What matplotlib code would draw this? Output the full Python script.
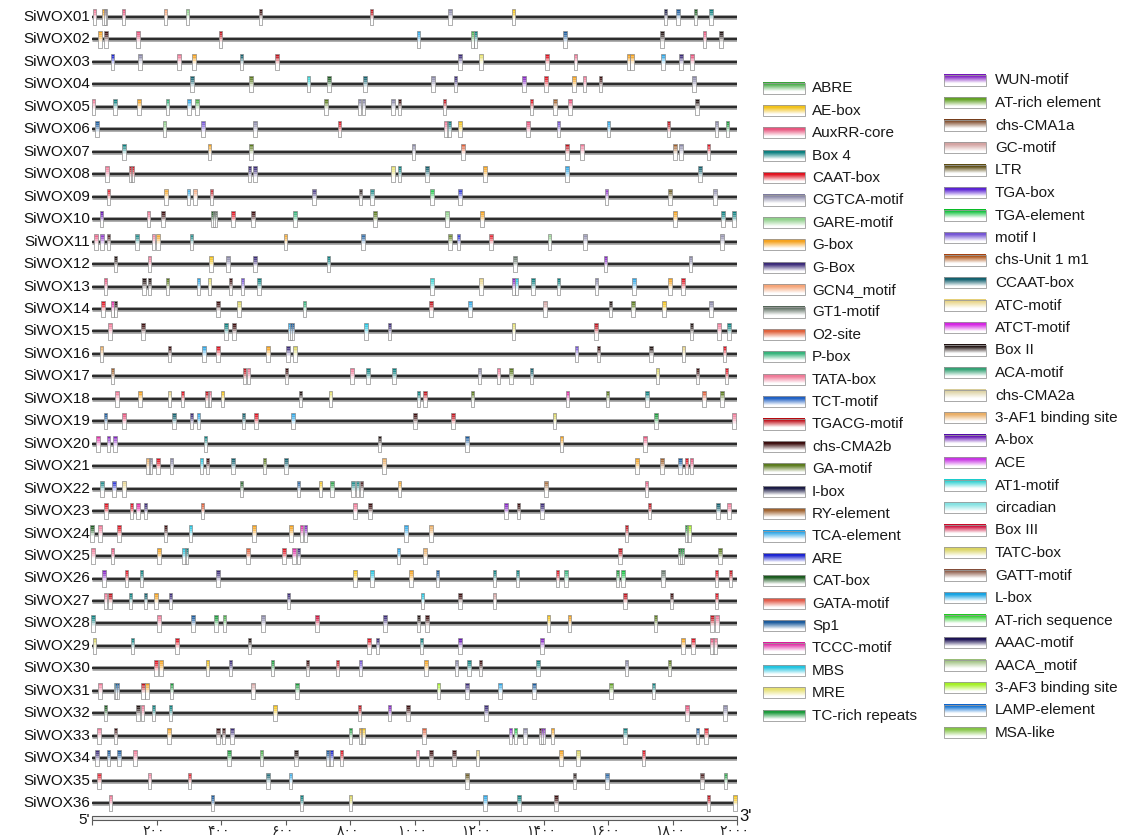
import numpy as np
import matplotlib.pyplot as plt
import matplotlib.colors as mcolors
from matplotlib.patches import Rectangle
from matplotlib.collections import PatchCollection

plt.rcParams['font.family'] = ['Liberation Sans', 'DejaVu Sans']

genes = ['SiWOX%02d' % i for i in range(1, 37)]

# legend entries, column by column, with the colour of each cis-element
legend_left = ['ABRE', 'AE-box', 'AuxRR-core', 'Box 4', 'CAAT-box', 'CGTCA-motif',
               'GARE-motif', 'G-box', 'G-Box', 'GCN4_motif', 'GT1-motif', 'O2-site',
               'P-box', 'TATA-box', 'TCT-motif', 'TGACG-motif', 'chs-CMA2b', 'GA-motif',
               'I-box', 'RY-element', 'TCA-element', 'ARE', 'CAT-box', 'GATA-motif',
               'Sp1', 'TCCC-motif', 'MBS', 'MRE', 'TC-rich repeats']
colors_left = ['#4cae4c', '#f2c21a', '#e8557e', '#0a7f7f', '#e0101e', '#8a88a8',
               '#8fd08a', '#f5a21e', '#3a2a78', '#f6a578', '#66766a', '#e0603a',
               '#34b37a', '#f07a98', '#1f60c4', '#c0121c', '#3a0c0c', '#5a7a1c',
               '#1a1a44', '#a0622e', '#2ea6e6', '#1a22d0', '#1a5a1e', '#e25a48',
               '#1a5a9c', '#e030a6', '#22c4e0', '#e6e070', '#1a9a3a']
legend_right = ['WUN-motif', 'AT-rich element', 'chs-CMA1a', 'GC-motif', 'LTR', 'TGA-box',
                'TGA-element', 'motif I', 'chs-Unit 1 m1', 'CCAAT-box', 'ATC-motif',
                'ATCT-motif', 'Box II', 'ACA-motif', 'chs-CMA2a', '3-AF1 binding site',
                'A-box', 'ACE', 'AT1-motif', 'circadian', 'Box III', 'TATC-box',
                'GATT-motif', 'L-box', 'AT-rich sequence', 'AAAC-motif', 'AACA_motif',
                '3-AF3 binding site', 'LAMP-element', 'MSA-like']
colors_right = ['#8424c4', '#62a224', '#845232', '#d4a4a2', '#5c4c12', '#5a22d4',
                '#12c23e', '#7454d4', '#b0561a', '#12606e', '#e8d486', '#d424e2',
                '#201210', '#34a274', '#dcd2a4', '#eaae66', '#6412b4', '#c834e4',
                '#34d2d2', '#86e2e2', '#d0123e', '#dad462', '#90604e', '#14a2e2',
                '#34d234', '#1c1254', '#a4c486', '#a4f024', '#1474d4', '#84c444']

# cis-element positions (bp from 5') and types, one list per gene
site_pos = [
    [8, 38, 42, 97, 228, 296, 522, 866, 1110, 1307, 1778, 1817, 1872, 1919],
    [25, 44, 142, 398, 1012, 1180, 1189, 1466, 1767, 1899, 1950],
    [64, 149, 269, 317, 463, 574, 1141, 1206, 1411, 1499, 1664, 1674, 1771, 1826, 1860],
    [310, 493, 672, 735, 846, 1058, 1127, 1339, 1407, 1494, 1527, 1577, 1867],
    [5, 71, 146, 234, 300, 326, 725, 829, 842, 934, 954, 1093, 1363, 1435, 1483, 1876],
    [16, 225, 345, 506, 767, 1097, 1107, 1141, 1352, 1447, 1601, 1787, 1937, 1970],
    [99, 365, 493, 997, 1150, 1473, 1520, 1808, 1826, 1911],
    [47, 120, 126, 489, 506, 934, 954, 1039, 1219, 1473, 1886],
    [51, 230, 299, 319, 371, 689, 832, 868, 1054, 1141, 1595, 1792, 1932],
    [29, 175, 221, 375, 382, 437, 500, 630, 877, 1101, 1209, 1808, 1957, 1991],
    [12, 31, 51, 139, 191, 205, 309, 600, 840, 1110, 1137, 1237, 1418, 1529, 1954],
    [73, 178, 369, 421, 505, 734, 1311, 1592, 1856],
    [42, 162, 178, 234, 330, 365, 430, 466, 518, 1054, 1206, 1307, 1316, 1368, 1447,
     1564, 1681, 1792, 1833],
    [34, 64, 73, 391, 456, 659, 1052, 1172, 1405, 1608, 1677, 1774, 1919],
    [55, 158, 415, 440, 614, 620, 849, 923, 1307, 1562, 1859, 1945, 1976],
    [29, 241, 348, 391, 545, 607, 629, 1503, 1571, 1734, 1834, 1961],
    [64, 473, 485, 603, 806, 855, 937, 1202, 1261, 1300, 1363, 1754, 1878, 1967],
    [77, 149, 241, 280, 356, 365, 404, 646, 740, 1012, 1033, 1180, 1474, 1598, 1721,
     1898, 1954],
    [42, 99, 254, 309, 330, 470, 509, 623, 1002, 1120, 1434, 1748, 1991],
    [18, 51, 71, 352, 892, 1163, 1456, 1715],
    [173, 182, 204, 247, 340, 358, 437, 535, 601, 906, 1690, 1768, 1823, 1843, 1859],
    [31, 68, 99, 463, 640, 709, 744, 810, 823, 836, 954, 1407, 1719],
    [44, 123, 143, 166, 343, 816, 862, 1283, 1322, 1396, 1729, 1941, 1976],
    [0, 25, 84, 228, 306, 502, 617, 649, 662, 973, 1052, 1657, 1843, 1852],
    [3, 64, 208, 286, 293, 483, 596, 627, 640, 950, 1032, 1638, 1823, 1830, 1948],
    [38, 107, 153, 391, 816, 868, 989, 1071, 1248, 1320, 1444, 1470, 1630, 1647, 1771,
     1937, 1980],
    [42, 55, 119, 166, 199, 243, 609, 1025, 1141, 1248, 1653, 1797, 1937],
    [3, 208, 313, 385, 411, 531, 698, 908, 1012, 1039, 1415, 1481, 1747, 1922, 1938],
    [8, 126, 263, 489, 859, 885, 1022, 1141, 1396, 1833, 1863, 1922, 1932],
    [199, 214, 358, 430, 559, 668, 761, 832, 1036, 1130, 1169, 1205, 1383, 1657, 1790],
    [25, 73, 77, 158, 171, 247, 500, 636, 1075, 1163, 1265, 1370, 1610, 1741],
    [42, 143, 156, 191, 243, 568, 830, 923, 980, 1222, 1845, 1963],
    [21, 73, 238, 391, 408, 434, 801, 832, 840, 1029, 1297, 1313, 1343, 1392, 1398,
     1428, 1653, 1878, 1904],
    [16, 51, 84, 133, 424, 526, 633, 731, 741, 773, 1010, 1052, 1123, 1196, 1455, 1507,
     1710],
    [22, 178, 302, 545, 616, 1163, 1496, 1597, 1891, 1965],
    [58, 374, 650, 801, 1219, 1324, 1438, 1911, 1993],
]
site_type = [
    ['TATA-box', 'G-box', 'CGTCA-motif', 'AuxRR-core', 'GCN4_motif', 'GARE-motif',
     'chs-CMA2b', 'TGACG-motif', 'CGTCA-motif', 'AE-box', 'I-box', 'Sp1', 'CAT-box', 'Box 4'],
    ['G-box', 'chs-CMA2b', 'AuxRR-core', 'TGACG-motif', 'TCA-element', 'ABRE', 'Box 4',
     'Sp1', 'Box II', 'AuxRR-core', 'Box II'],
    ['ARE', 'CGTCA-motif', 'TATA-box', 'G-box', 'CCAAT-box', 'TGACG-motif', 'G-Box', 'MRE',
     'CAAT-box', 'TATA-box', 'G-box', 'G-box', 'TCA-element', 'G-Box', 'AuxRR-core'],
    ['CCAAT-box', 'GA-motif', 'AT1-motif', 'CAT-box', 'CCAAT-box', 'CGTCA-motif', 'G-Box',
     'WUN-motif', 'CAAT-box', 'G-box', 'TATA-box', 'chs-CMA2b', 'CGTCA-motif'],
    ['TATA-box', 'Box 4', 'G-box', 'P-box', 'TCA-element', 'ABRE', 'GA-motif', 'CGTCA-motif',
     'CGTCA-motif', 'CGTCA-motif', 'chs-CMA2b', 'TGACG-motif', 'CAAT-box', 'RY-element',
     'AuxRR-core', 'Box II'],
    ['Sp1', 'GARE-motif', 'motif I', 'CGTCA-motif', 'CAAT-box', 'TATA-box', 'Box 4', 'AE-box',
     'AuxRR-core', 'motif I', 'TCA-element', 'TGACG-motif', 'CGTCA-motif', 'TC-rich repeats'],
    ['Box 4', 'G-box', 'GA-motif', 'CGTCA-motif', 'O2-site', 'TGACG-motif', 'TATA-box',
     'RY-element', 'CGTCA-motif', 'CAAT-box'],
    ['TATA-box', 'TGACG-motif', 'CAAT-box', 'G-Box', 'G-Box', 'MRE', 'Box 4', 'CCAAT-box',
     'G-box', 'TCA-element', 'CCAAT-box'],
    ['CAAT-box', 'G-box', 'TCA-element', 'GCN4_motif', 'TGACG-motif', 'G-Box', 'Box II',
     'Box 4', 'TGA-element', 'ARE', 'WUN-motif', 'LTR', 'CGTCA-motif'],
    ['A-box', 'TATA-box', 'chs-CMA2b', 'CAT-box', 'GT1-motif', 'CAAT-box', 'chs-CMA2b',
     'P-box', 'GA-motif', 'GARE-motif', 'G-box', 'G-box', 'Box 4', 'Box 4'],
    ['AuxRR-core', 'WUN-motif', 'chs-CMA2b', 'Box 4', 'TATA-box', 'G-box', 'Box 4', 'G-box',
     'Sp1', 'GA-motif', 'ARE', 'CAAT-box', 'GARE-motif', 'CGTCA-motif', 'CGTCA-motif'],
    ['Box II', 'TATA-box', 'AE-box', 'CGTCA-motif', 'G-Box', 'Box 4', 'GT1-motif',
     'WUN-motif', 'CGTCA-motif'],
    ['AuxRR-core', 'Box II', 'Box II', 'GA-motif', 'TCA-element', 'MRE', 'chs-CMA2b',
     'motif I', 'Box 4', 'AT1-motif', 'ATC-motif', 'WUN-motif', 'MBS', 'Box 4', 'Box 4',
     'CGTCA-motif', 'TCA-element', 'G-box', 'CAAT-box'],
    ['CAAT-box', 'TCCC-motif', 'Box II', 'chs-CMA2b', 'TATC-box', 'P-box', 'TGACG-motif',
     'TCA-element', 'GC-motif', 'Box II', 'GA-motif', 'AE-box', 'CGTCA-motif'],
    ['TATA-box', 'chs-CMA2b', 'Box 4', 'chs-CMA2b', 'TCA-element', 'Sp1', 'MBS', 'G-Box',
     'MRE', 'TGACG-motif', 'Box II', 'TATA-box', 'Box 4'],
    ['3-AF1 binding site', 'chs-CMA2b', 'TCA-element', 'CAAT-box', 'G-box', 'G-Box',
     'TATC-box', 'motif I', 'chs-CMA2b', 'Box II', 'ATC-motif', 'CAAT-box'],
    ['RY-element', 'TGACG-motif', 'TATA-box', 'chs-CMA2b', 'TATA-box', 'Box 4', 'Box 4',
     'CGTCA-motif', 'TATA-box', 'GA-motif', 'CCAAT-box', 'TATC-box', 'chs-CMA2b', 'CAAT-box'],
    ['TATA-box', 'G-box', 'ATC-motif', 'CAAT-box', 'TGACG-motif', 'TATA-box', 'AE-box',
     'Box II', 'MRE', 'Box 4', 'TGACG-motif', 'GA-motif', 'TCCC-motif', 'GA-motif', 'Box 4',
     'O2-site', 'GA-motif'],
    ['Sp1', 'AuxRR-core', 'CCAAT-box', 'G-Box', 'TCA-element', 'CCAAT-box', 'CAAT-box',
     'TCA-element', 'chs-CMA2b', 'TGACG-motif', 'TATC-box', 'TC-rich repeats', 'TATA-box'],
    ['TCCC-motif', 'WUN-motif', 'WUN-motif', 'Box 4', 'Box II', 'Sp1', 'G-box', 'AuxRR-core'],
    ['3-AF1 binding site', 'CGTCA-motif', 'CAAT-box', 'CGTCA-motif', 'MBS', 'chs-CMA2b',
     'CCAAT-box', 'GA-motif', 'CCAAT-box', '3-AF1 binding site', 'G-box', 'RY-element',
     'Sp1', 'CAAT-box', 'AuxRR-core'],
    ['Box 4', 'ARE', 'ATC-motif', 'CAT-box', 'Sp1', 'AE-box', 'TC-rich repeats', 'Box 4',
     'Box 4', 'chs-CMA2b', 'G-box', 'RY-element', 'AuxRR-core'],
    ['CAAT-box', 'CAAT-box', 'TCCC-motif', 'G-Box', 'O2-site', 'TATA-box', 'chs-CMA2b',
     'WUN-motif', 'chs-CMA2b', 'G-Box', 'TGACG-motif', 'CCAAT-box', 'TATA-box'],
    ['CAT-box', 'TATA-box', 'CAAT-box', 'chs-CMA2b', 'MBS', 'G-box', 'G-box', 'TCCC-motif',
     'WUN-motif', 'TCA-element', '3-AF1 binding site', 'TGACG-motif', 'TC-rich repeats',
     '3-AF3 binding site'],
    ['TATA-box', 'AuxRR-core', 'G-box', 'MBS', 'Box 4', 'O2-site', 'CAAT-box', 'TCCC-motif',
     'G-Box', 'TCA-element', '3-AF1 binding site', 'TGACG-motif', 'CAT-box',
     'TC-rich repeats', 'GA-motif'],
    ['WUN-motif', 'CAAT-box', 'Box 4', 'G-Box', 'AE-box', 'MBS', 'G-box', 'Sp1', 'Box 4',
     'Box 4', 'CAAT-box', 'P-box', 'TC-rich repeats', 'TGA-element', 'GT1-motif',
     'CAAT-box', 'TGACG-motif'],
    ['TATA-box', 'TGACG-motif', 'Box 4', 'CCAAT-box', 'G-box', 'G-Box', 'G-Box', 'MBS',
     'chs-CMA2b', 'GC-motif', 'TGACG-motif', 'chs-CMA2b', 'CAAT-box'],
    ['Box 4', 'TATA-box', 'Sp1', 'TC-rich repeats', 'ABRE', 'CGTCA-motif', 'Box III',
     'G-Box', 'Box II', 'chs-CMA2b', 'AE-box', 'G-box', 'GA-motif', 'TGACG-motif', 'TATA-box'],
    ['TATC-box', 'Box 4', 'CAAT-box', 'Box II', 'CAAT-box', 'G-Box', 'Box 4', 'A-box',
     'WUN-motif', 'G-box', 'CAAT-box', 'AuxRR-core', 'TATA-box'],
    ['CAAT-box', 'G-box', 'AE-box', 'G-Box', 'TC-rich repeats', 'chs-CMA2b', 'TGACG-motif',
     'motif I', 'G-box', 'CGTCA-motif', 'Box 4', 'chs-CMA2b', 'Box 4', 'CGTCA-motif',
     'GA-motif'],
    ['TATA-box', 'MBS', 'Sp1', 'TGACG-motif', 'G-box', 'TC-rich repeats', 'GC-motif',
     'TC-rich repeats', '3-AF3 binding site', 'G-Box', 'TCA-element', 'Sp1',
     'AT-rich element', 'Box 4'],
    ['CAT-box', 'Box II', 'TATA-box', 'Box 4', 'Box 4', 'AE-box', 'TGACG-motif', 'WUN-motif',
     'chs-CMA2b', 'G-Box', 'AuxRR-core', 'CGTCA-motif'],
    ['TATA-box', 'chs-CMA2b', 'G-box', 'chs-CMA2b', 'chs-CMA2b', 'G-Box', 'TC-rich repeats',
     'G-box', 'AE-box', 'O2-site', 'WUN-motif', 'TGA-element', 'CGTCA-motif', 'chs-CMA2b',
     'WUN-motif', 'G-box', 'Box 4', 'Sp1', 'CAAT-box'],
    ['G-Box', 'Sp1', 'Sp1', 'TATA-box', 'TC-rich repeats', 'ABRE', 'Box II', 'Sp1', 'ARE',
     'CAAT-box', 'TATA-box', 'chs-CMA2b', 'chs-CMA2b', 'ATC-motif', 'G-box', 'TATC-box',
     'CAAT-box'],
    ['CAAT-box', 'TATA-box', 'CAAT-box', 'CCAAT-box', 'TCA-element', 'LTR', 'Box II', 'Sp1',
     'chs-CMA2b', 'TC-rich repeats'],
    ['TATA-box', 'Sp1', 'Box 4', 'TATC-box', 'TCA-element', 'Box 4', 'chs-CMA2b',
     'TGACG-motif', 'AE-box'],
]

tick_pos = [0, 200, 400, 600, 800, 1000, 1200, 1400, 1600, 1800, 2000]
tick_labels = ['', '۲۰۰', '۴۰۰', '۶۰۰', '۸۰۰', '۱۰۰۰', '۱۲۰۰', '۱۴۰۰', '۱۶۰۰', '۱۸۰۰', '۲۰۰۰']

elem_color = dict(zip(legend_left + legend_right, colors_left + colors_right))


def blend(c, f):
    rgb = np.array(mcolors.to_rgb(c))
    return tuple(rgb + (1 - rgb) * f)


W, H = 1122, 840
fig = plt.figure(figsize=(W / 100, H / 100), dpi=100)

# main axes: x in bp, y in gene rows (row 0 at 17 px, 22.46 px per row)
row0, step = 17, 22.46
ax = fig.add_axes([92 / W, 0, 645 / W, 1])
ax.set_xlim(0, 2000)
ax.set_ylim((H - row0) / step, -row0 / step)
ax.axis('off')

rows = np.arange(len(genes))
ax.hlines(rows, 0, 2000, color='#a2a2a2', lw=3.4, zorder=1)
ax.hlines(rows, 0, 2000, color='#2c2c2c', lw=1.6, zorder=2)
for r, g in enumerate(genes):
    ax.text(-7, r, g, ha='right', va='center', fontsize=11, color='#111111')

# cis-element pins: coloured head fading to white, grey outline
mw = 11
fills, bands, edges = [], [], []
band_f = [0.0, 0.12, 0.3, 0.55, 0.8]
band_y = np.linspace(-0.36, 0.06, len(band_f) + 1)
for r, (pos, typ) in enumerate(zip(site_pos, site_type)):
    for p, t in zip(pos, typ):
        c = elem_color[t]
        fills.append(Rectangle((p - mw / 2, r - 0.36), mw, 0.72, fc='white', ec='none'))
        for k, f in enumerate(band_f):
            bands.append(Rectangle((p - mw / 2, r + band_y[k]), mw, band_y[k + 1] - band_y[k],
                                   fc=blend(c, f), ec='none'))
        edges.append(Rectangle((p - mw / 2, r - 0.36), mw, 0.72, fc='none', ec='#8e8e8e', lw=0.5))
for coll, z in ((fills, 3), (bands, 4), (edges, 5)):
    pc = PatchCollection(coll, match_original=True, zorder=z)
    pc.set_clip_on(False)
    ax.add_collection(pc)

# scale bar
bar_y = (818 - row0) / step
ax.add_patch(Rectangle((0, bar_y - 0.07), 2000, 0.14, fc='#ececec', ec='#5a5a5a', lw=0.8,
                       clip_on=False))
ax.vlines(tick_pos, bar_y + 0.07, bar_y + 0.32, color='#5a5a5a', lw=0.8, clip_on=False)
for p, lab in zip(tick_pos, tick_labels):
    ax.text(p - 8, bar_y + 0.6, lab, ha='center', va='center', fontsize=10,
            family=['DejaVu Sans'], color='#222222')
ax.text(-8, bar_y + 0.1, "5'", ha='right', va='center', fontsize=11, color='#111111')
ax.text(2008, bar_y - 0.05, "3'", ha='left', va='center', fontsize=12, color='#111111')

# legend in figure pixels
lax = fig.add_axes([0, 0, 1, 1])
lax.axis('off')
grad_f = np.clip((np.linspace(0, 1, 24) - 0.2) / 0.65, 0, 1)
columns = [(legend_left, 763, 812, 88, 22.4), (legend_right, 944, 995, 80, 22.5)]
for names, x0, xt, y0, dy in columns:
    for k, name in enumerate(names):
        yc = y0 + k * dy
        c = elem_color[name]
        grad = np.array([blend(c, f) for f in grad_f]).reshape(-1, 1, 3)
        grad[0, 0] = blend(c, -0.25) if np.mean(mcolors.to_rgb(c)) > 0.3 else mcolors.to_rgb(c)
        lax.imshow(np.clip(grad, 0, 1), extent=(x0, x0 + 42, yc + 5.5, yc - 5.5),
                   aspect='auto', interpolation='bilinear')
        lax.add_patch(Rectangle((x0, yc - 5.5), 42, 11, fc='none', ec='#9a9a9a', lw=0.6))
        lax.text(xt, yc + 0.5, name, ha='left', va='center', fontsize=11, color='#1a1a1a')
lax.set_xlim(0, W)
lax.set_ylim(H, 0)

fig.savefig('out.png', dpi=100)
